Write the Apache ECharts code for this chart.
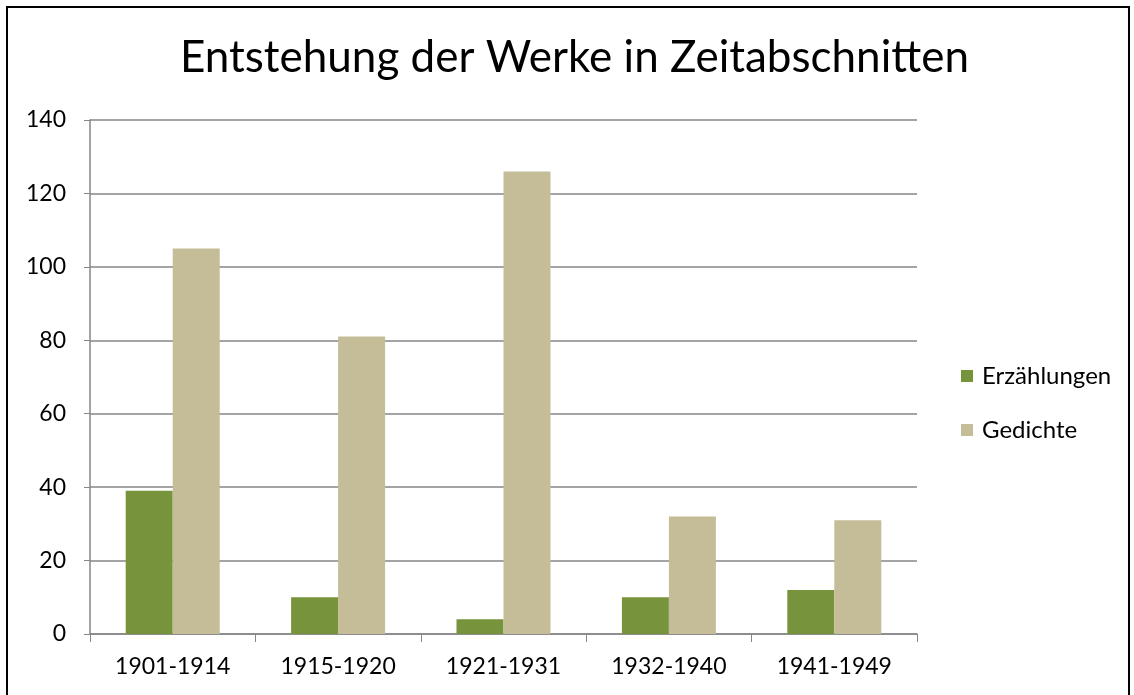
<!DOCTYPE html>
<html>
<head>
<meta charset="utf-8">
<script src="https://cdn.jsdelivr.net/npm/echarts@6/dist/echarts.min.js"></script>
<style>
  html, body { margin: 0; padding: 0; background: #fff; }
  #frame { position: absolute; left: 6px; top: 6px; width: 1124px; height: 700px; border: 2px solid #000; box-sizing: border-box; }
  #chart { position: absolute; left: 0; top: 0; width: 1134px; height: 695px; }
</style>
</head>
<body>
<div id="frame"></div>
<div id="chart"></div>
<script>
const periods = ['1901-1914', '1915-1920', '1921-1931', '1932-1940', '1941-1949'];
const erzaehlungen = [39, 10, 4, 10, 12];
const gedichte = [105, 81, 126, 32, 31];
const yTicks = [0, 20, 40, 60, 80, 100, 120, 140];

const font = 'Lato, "Open Sans", sans-serif';
const chart = echarts.init(document.getElementById('chart'));

chart.setOption({
  animation: false,
  textStyle: { fontFamily: font },
  title: {
    text: 'Entstehung der Werke in Zeitabschnitten',
    left: 180,
    top: 36,
    padding: 0,
    textStyle: { fontFamily: font, fontSize: 44, fontWeight: 'normal', color: '#000' },
  },
  legend: {
    orient: 'vertical',
    left: 956,
    top: 359,
    itemWidth: 12,
    itemHeight: 12,
    itemGap: 30,
    icon: 'rect',
    textStyle: { fontFamily: font, fontSize: 24, color: '#000', padding: [0, 0, 0, 4] },
    data: ['Erzählungen', 'Gedichte'],
  },
  grid: { left: 90, right: 217, top: 120, bottom: 61 },
  xAxis: {
    type: 'category',
    data: periods,
    axisLine: { lineStyle: { color: '#868686', width: 1.5 } },
    axisTick: { show: true, length: 8, lineStyle: { color: '#868686' } },
    axisLabel: { fontFamily: font, fontSize: 23, color: '#000', margin: 21 },
  },
  yAxis: {
    type: 'value',
    min: yTicks[0],
    max: yTicks[yTicks.length - 1],
    interval: 20,
    axisLine: { show: true, lineStyle: { color: '#868686', width: 1.5 } },
    axisTick: { show: true, length: 6, lineStyle: { color: '#868686' } },
    axisLabel: { fontFamily: font, fontSize: 23, color: '#000', margin: 24 },
    splitLine: { lineStyle: { color: '#868686', width: 1.5 } },
  },
  series: [
    {
      name: 'Erzählungen',
      type: 'bar',
      data: erzaehlungen,
      barWidth: 47,
      barGap: '0%',
      itemStyle: { color: '#77933C' },
    },
    {
      name: 'Gedichte',
      type: 'bar',
      data: gedichte,
      barWidth: 47,
      barGap: '0%',
      itemStyle: { color: '#C4BD97' },
    },
  ],
});
</script>
</body>
</html>
